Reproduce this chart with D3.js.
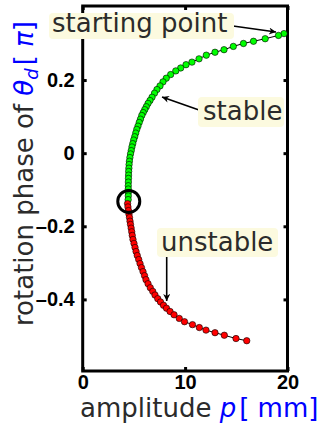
<!DOCTYPE html>
<meta charset="utf-8">
<script src="https://d3js.org/d3.v7.min.js"></script>
<style>
  body { margin: 0; background: #fff; }
</style>
<div id="chart"></div>
<script>

// stable branch (green), from the starting point down to the turning point
var stableP = [19.66, 19.12, 17.82, 16.68, 15.70, 14.71, 13.80, 12.92, 12.07, 11.36,
               10.67, 10.09, 9.57, 9.09, 8.59, 8.16, 7.84, 7.55, 7.25, 7.01,
               6.77, 6.57, 6.38, 6.21, 6.06, 5.91, 5.77, 5.64, 5.52, 5.40,
               5.28, 5.18, 5.08, 4.98, 4.89, 4.81, 4.74, 4.67, 4.61, 4.56,
               4.53, 4.51, 4.49, 4.48, 4.47, 4.46, 4.45, 4.45, 4.45, 4.45, 4.44];
var stableTheta = [0.327, 0.322, 0.313, 0.306, 0.300, 0.292, 0.283, 0.276, 0.268, 0.258,
                   0.249, 0.242, 0.233, 0.225, 0.215, 0.205, 0.195, 0.184, 0.174, 0.164,
                   0.153, 0.144, 0.136, 0.127, 0.119, 0.111, 0.103, 0.093, 0.084, 0.074,
                   0.065, 0.055, 0.045, 0.036, 0.026, 0.017, 0.007, -0.002, -0.012, -0.022,
                   -0.031, -0.041, -0.050, -0.060, -0.069, -0.079, -0.089, -0.098, -0.108, -0.117, -0.127];

// unstable branch (red), from the turning point down
var unstableP = [4.38, 4.42, 4.47, 4.52, 4.57, 4.62, 4.67, 4.73, 4.79, 4.84,
                 4.91, 5.01, 5.11, 5.21, 5.33, 5.47, 5.60, 5.74, 5.89, 6.04,
                 6.18, 6.38, 6.60, 6.84, 7.06, 7.33, 7.60, 7.89, 8.18, 8.53,
                 8.92, 9.43, 9.94, 10.72, 11.39, 12.04, 12.92, 13.83, 14.97, 16.02];
var unstableTheta = [-0.138, -0.147, -0.157, -0.167, -0.176, -0.186, -0.195, -0.205, -0.215, -0.225,
                     -0.236, -0.247, -0.258, -0.269, -0.280, -0.291, -0.302, -0.313, -0.324, -0.335,
                     -0.346, -0.357, -0.368, -0.378, -0.388, -0.398, -0.407, -0.416, -0.424, -0.433,
                     -0.442, -0.452, -0.461, -0.469, -0.477, -0.484, -0.491, -0.498, -0.507, -0.513];

// turning point (marked with a circle)
var turnP = 4.50, turnTheta = -0.132;

var xTicks = [0, 10, 20];
var yTicks = [0.2, 0, -0.2, -0.4];
var yTickLabels = ["0.2", "0", "\u20130.2", "\u20130.4"];

var W = 320, H = 423;
var pLeft = 82.7, pRight = 287.5, pTop = 6, pBottom = 371;

var svg = d3.select("#chart").append("svg")
    .attr("width", W)
    .attr("height", H);

var x = d3.scaleLinear().domain([0, 20]).range([pLeft, pRight]);
var y = d3.scaleLinear().domain([-0.5958, 0.4025]).range([pBottom, pTop]);

var stable = stableP.map(function(p, i) { return [p, stableTheta[i]]; });
var unstable = unstableP.map(function(p, i) { return [p, unstableTheta[i]]; });

// axes: ticks inward, labels bold
var xAxis = svg.append("g")
    .attr("transform", "translate(0," + pBottom + ")")
    .call(d3.axisBottom(x).tickValues(xTicks).tickSize(-4).tickPadding(4).tickFormat(d3.format("d")));
var xAxisTop = svg.append("g")
    .attr("transform", "translate(0," + pTop + ")")
    .call(d3.axisTop(x).tickValues(xTicks).tickSize(-4).tickFormat(""));
var yAxis = svg.append("g")
    .attr("transform", "translate(" + pLeft + ",0)")
    .call(d3.axisLeft(y).tickValues(yTicks).tickSize(-4).tickPadding(8)
        .tickFormat(function(d, i) { return yTickLabels[i]; }));
var yAxisRight = svg.append("g")
    .attr("transform", "translate(" + pRight + ",0)")
    .call(d3.axisRight(y).tickValues(yTicks).tickSize(-4).tickFormat(""));

svg.selectAll(".domain").remove();
svg.selectAll(".tick line").attr("stroke", "#000").attr("stroke-width", 3);
xAxis.selectAll("text")
    .attr("font-family", "Liberation Sans, Arial, sans-serif")
    .attr("font-weight", "bold")
    .attr("font-size", "20px")
    .attr("fill", "#000");
yAxis.selectAll("text")
    .attr("font-family", "Liberation Sans, Arial, sans-serif")
    .attr("font-weight", "bold")
    .attr("font-size", "20px")
    .attr("fill", "#000");

// frame
svg.append("rect")
    .attr("x", pLeft).attr("y", pTop)
    .attr("width", pRight - pLeft).attr("height", pBottom - pTop)
    .attr("fill", "none")
    .attr("stroke", "#000")
    .attr("stroke-width", 3);

// curves
var line = d3.line()
    .x(function(d) { return x(d[0]); })
    .y(function(d) { return y(d[1]); });

svg.append("path")
    .datum(stable.concat(unstable))
    .attr("d", line)
    .attr("fill", "none")
    .attr("stroke", "#000")
    .attr("stroke-width", 1);

svg.selectAll(".pt-stable").data(stable)
    .enter().append("circle")
    .attr("class", "pt-stable")
    .attr("cx", function(d) { return x(d[0]); })
    .attr("cy", function(d) { return y(d[1]); })
    .attr("r", 3.2)
    .attr("fill", "#00ff00")
    .attr("stroke", "#000")
    .attr("stroke-width", 0.6);

svg.selectAll(".pt-unstable").data(unstable)
    .enter().append("circle")
    .attr("class", "pt-unstable")
    .attr("cx", function(d) { return x(d[0]); })
    .attr("cy", function(d) { return y(d[1]); })
    .attr("r", 3.2)
    .attr("fill", "#ff0000")
    .attr("stroke", "#000")
    .attr("stroke-width", 0.6);

svg.append("circle")
    .attr("cx", x(turnP))
    .attr("cy", y(turnTheta))
    .attr("r", 11)
    .attr("fill", "none")
    .attr("stroke", "#000")
    .attr("stroke-width", 3);

// arrow head
svg.append("defs").append("marker")
    .attr("id", "head")
    .attr("viewBox", "0 0 10 10")
    .attr("refX", 10).attr("refY", 5)
    .attr("markerWidth", 8).attr("markerHeight", 7)
    .attr("markerUnits", "userSpaceOnUse")
    .attr("orient", "auto")
    .append("path")
    .attr("d", "M0,0 L10,5 L0,10 L3,5 Z")
    .attr("fill", "#000");

// annotations: box, text, arrow
function note(bx, by, bw, bh, label, tx, ty, ax1, ay1, ax2, ay2) {
    svg.append("line")
        .attr("x1", ax1).attr("y1", ay1)
        .attr("x2", ax2).attr("y2", ay2)
        .attr("stroke", "#000")
        .attr("stroke-width", 1.6)
        .attr("marker-end", "url(#head)");
    svg.append("rect")
        .attr("x", bx).attr("y", by)
        .attr("width", bw).attr("height", bh)
        .attr("rx", 4)
        .attr("fill", "#fcfadf");
    svg.append("text")
        .attr("x", tx).attr("y", ty)
        .attr("font-family", "DejaVu Sans, sans-serif")
        .attr("font-size", "26px")
        .attr("fill", "#2b2b2b")
        .text(label);
}

note(49, 13, 185, 26, "starting point", 52, 32, 233, 26, 276, 32);
note(198, 97, 86, 30, "stable", 203, 120, 199, 110, 162, 97);
note(157, 228, 121, 29, "unstable", 161, 251, 166.7, 257, 166.7, 301);

// axis labels
var xl = svg.append("text")
    .attr("x", 80).attr("y", 416.5)
    .attr("font-family", "DejaVu Sans, sans-serif")
    .attr("font-size", "26px")
    .attr("fill", "#2b2b2b");
xl.append("tspan").text("amplitude ");
xl.append("tspan").attr("fill", "#0000ff").attr("font-style", "italic").text("p");
xl.append("tspan").attr("fill", "#0000ff").attr("dx", 3).text("[ mm]");

var yl = svg.append("text")
    .attr("transform", "translate(33,326) rotate(-90)")
    .attr("font-family", "DejaVu Sans, sans-serif")
    .attr("font-size", "26px")
    .attr("fill", "#2b2b2b");
yl.append("tspan").text("rotation phase of ");
yl.append("tspan").attr("fill", "#0000ff").attr("font-style", "italic").text("\u03b8");
yl.append("tspan").attr("fill", "#0000ff").attr("font-style", "italic")
    .attr("font-size", "18px").attr("dy", 5).text("d");
yl.append("tspan").attr("fill", "#0000ff").attr("dy", -5).attr("dx", 3).text("[ ");
yl.append("tspan").attr("fill", "#0000ff").attr("font-style", "italic").text("\u03c0");
yl.append("tspan").attr("fill", "#0000ff").text("]");

</script>
